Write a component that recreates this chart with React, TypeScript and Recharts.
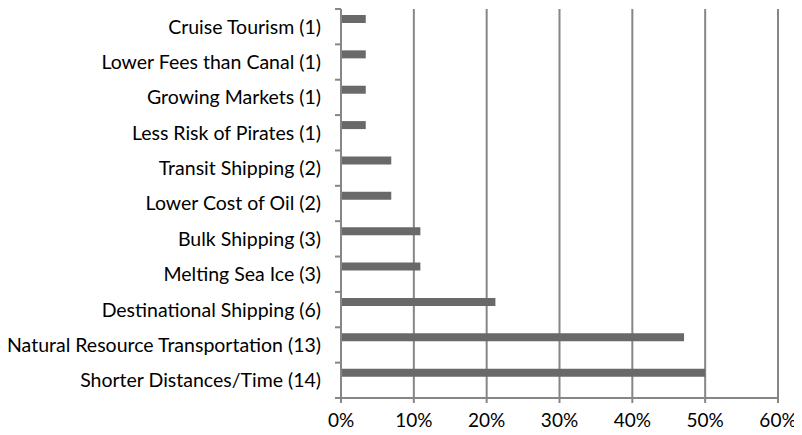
import React from 'react';
import { BarChart, Bar, XAxis, YAxis, CartesianGrid } from 'recharts';

const categories = [
  'Cruise Tourism (1)',
  'Lower Fees than Canal (1)',
  'Growing Markets (1)',
  'Less Risk of Pirates (1)',
  'Transit Shipping (2)',
  'Lower Cost of Oil (2)',
  'Bulk Shipping (3)',
  'Melting Sea Ice (3)',
  'Destinational Shipping (6)',
  'Natural Resource Transportation (13)',
  'Shorter Distances/Time (14)',
];
const shares = [3.4, 3.4, 3.4, 3.4, 6.9, 6.9, 10.9, 10.9, 21.2, 47.1, 50];
const xTicks = [0, 10, 20, 30, 40, 50, 60];

const data = categories.map((name, i) => ({ name, share: shares[i] }));

const font = 'Lato, "Open Sans", sans-serif';
const gray = '#868686';

const W = 802;
const H = 435;
const TOP = 9;
const XAXIS_H = 37;
const AXIS_X = 341;
const BAND = (H - TOP - XAXIS_H) / categories.length;

// Label plus Excel-style tick marks on the category boundaries
const CategoryTick = (props: any) => {
  const { x, y, payload } = props;
  const top = Number(y) - BAND / 2;
  const isLast = payload && payload.value === categories[categories.length - 1];
  return (
    <g>
      <path d={`M${AXIS_X - 6},${top}H${AXIS_X}`} stroke={gray} strokeWidth={2} fill="none" />
      {isLast && (
        <path d={`M${AXIS_X - 6},${top + BAND}H${AXIS_X}`} stroke={gray} strokeWidth={2} fill="none" />
      )}
      <text x={x} y={y} dy="0.355em" textAnchor="end" fill="#000" fontSize={19.5} fontFamily={font}>
        {payload.value}
      </text>
    </g>
  );
};

export default function App() {
  return (
    <div style={{ margin: -8, fontFamily: font }}>
      <BarChart
        width={W}
        height={H}
        data={data}
        layout="vertical"
        margin={{ top: TOP, right: 24, left: 0, bottom: 0 }}
        barGap={0}
      >
        <CartesianGrid horizontal={false} stroke={gray} strokeWidth={2} />
        <XAxis
          type="number"
          domain={[0, 60]}
          ticks={xTicks}
          tickFormatter={(v) => `${v}%`}
          height={XAXIS_H}
          stroke={gray}
          strokeWidth={2}
          tickSize={5}
          tick={{ fill: '#000', fontSize: 19, fontFamily: font }}
          tickMargin={11}
        />
        <YAxis
          type="category"
          dataKey="name"
          width={AXIS_X}
          tickLine={false}
          axisLine={{ stroke: gray, strokeWidth: 2 }}
          tick={CategoryTick}
          tickMargin={14}
          interval={0}
        />
        <Bar dataKey="share" fill="#696969" barSize={8} isAnimationActive={false} />
        <Bar dataKey="none1" fill="none" barSize={8} isAnimationActive={false} />
        <Bar dataKey="none2" fill="none" barSize={8} isAnimationActive={false} />
      </BarChart>
    </div>
  );
}
